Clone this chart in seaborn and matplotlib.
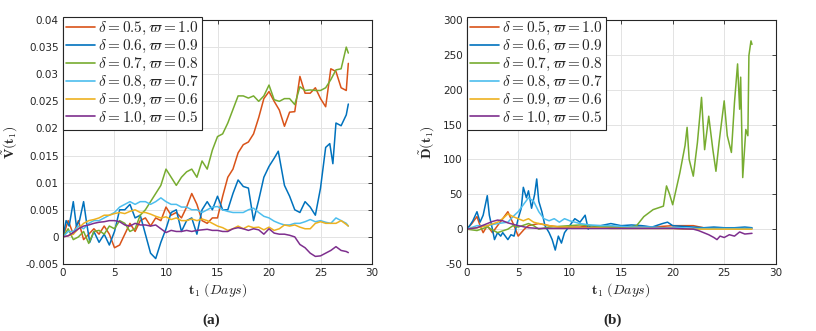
import pandas as pd
import matplotlib.pyplot as plt
import numpy as np
import seaborn as sns

# legend labels and MATLAB-like colours
labels = [r'$\delta = 0.5, \varpi = 1.0$', r'$\delta = 0.6, \varpi = 0.9$',
          r'$\delta = 0.7, \varpi = 0.8$', r'$\delta = 0.8, \varpi = 0.7$',
          r'$\delta = 0.9, \varpi = 0.6$', r'$\delta = 1.0, \varpi = 0.5$']
colors = ['#D95319', '#0072BD', '#77AC30', '#4DBEEE', '#EDB120', '#7E2F8E']

# ---- panel (a): V(t1) ----
t_a = [0, 0.5, 1, 1.5, 2, 2.5, 3, 3.5, 4, 4.5, 5, 5.5, 6, 6.5, 7, 7.5, 8, 8.5, 9, 9.5,
       10, 10.5, 11, 11.5, 12, 12.5, 13, 13.5, 14, 14.5, 15, 15.5, 16, 16.5, 17, 17.5,
       18, 18.5, 19, 19.5, 20, 20.5, 21, 21.5, 22, 22.5, 23, 23.5, 24, 24.5, 25, 25.5,
       26, 26.5, 27, 27.5, 27.7]
v_orange = [0, 0.003, 0.0005, 0.003, -0.0005, 0.0005, 0.0015, 0.0005, 0.002, 0.0005,
            -0.002, -0.0015, 0.0005, 0.0025, 0.001, 0.003, 0.0035, 0.002, 0.0035, 0.003,
            0.0055, 0.004, 0.0045, 0.0035, 0.0055, 0.008, 0.006, 0.003, 0.0025, 0.0035,
            0.0035, 0.0075, 0.011, 0.0125, 0.0155, 0.017, 0.0175, 0.019, 0.022, 0.0255,
            0.0268, 0.025, 0.0234, 0.0204, 0.023, 0.0231, 0.0296, 0.0265, 0.0265, 0.0275,
            0.0255, 0.024, 0.031, 0.0305, 0.0275, 0.027, 0.032]
v_green = [0, 0.0015, -0.0005, 0, 0.001, -0.0012, 0.001, 0.0012, 0.0005, 0.002,
           0.0015, 0.003, 0.0025, 0.001, 0.0015, 0.004, 0.005, 0.0065, 0.008, 0.0095,
           0.0125, 0.011, 0.0095, 0.011, 0.012, 0.0125, 0.011, 0.014, 0.0125, 0.016,
           0.0185, 0.019, 0.021, 0.0235, 0.026, 0.026, 0.0256, 0.026, 0.025, 0.026,
           0.028, 0.0253, 0.025, 0.0255, 0.0255, 0.0244, 0.0277, 0.027, 0.0271, 0.027,
           0.027, 0.0275, 0.029, 0.0308, 0.031, 0.035, 0.0339]
v_light = [0, 0.001, 0.001, 0.002, 0.0015, 0.0025, 0.003, 0.003, 0.0035, 0.004,
           0.0045, 0.0055, 0.006, 0.0065, 0.006, 0.0065, 0.0065, 0.006, 0.0065, 0.0072,
           0.0065, 0.006, 0.006, 0.0055, 0.0055, 0.005, 0.005, 0.0045, 0.005, 0.0055,
           0.0056, 0.005, 0.0047, 0.0045, 0.0045, 0.0045, 0.005, 0.0053, 0.0045, 0.0038,
           0.0035, 0.0029, 0.0025, 0.0022, 0.0022, 0.0025, 0.0025, 0.0028, 0.0032, 0.0028,
           0.003, 0.0027, 0.0025, 0.0035, 0.003, 0.0025, 0.002]
v_yellow = [0, 0.0002, 0.0005, 0.0015, 0.0025, 0.003, 0.0032, 0.0035, 0.004, 0.004,
            0.0043, 0.0045, 0.0043, 0.0047, 0.005, 0.0045, 0.0045, 0.0042, 0.0038, 0.0035,
            0.0037, 0.0032, 0.0035, 0.003, 0.003, 0.0033, 0.003, 0.0033, 0.003, 0.0025,
            0.002, 0.0017, 0.0012, 0.0015, 0.002, 0.0015, 0.002, 0.0017, 0.0018, 0.0013,
            0.0018, 0.0012, 0.0015, 0.0022, 0.002, 0.0022, 0.0018, 0.0015, 0.0015, 0.0025,
            0.0028, 0.0025, 0.0025, 0.0025, 0.003, 0.0023, 0.002]
v_purple = [0, 0.0002, 0.0008, 0.0015, 0.002, 0.0022, 0.0025, 0.0027, 0.0028, 0.003,
            0.003, 0.0028, 0.0022, 0.002, 0.0025, 0.0022, 0.0022, 0.002, 0.0022, 0.0015,
            0.0008, 0.0012, 0.001, 0.001, 0.0012, 0.001, 0.0012, 0.0013, 0.0014, 0.0012,
            0.0012, 0.001, 0.001, 0.0015, 0.0017, 0.0015, 0.0012, 0.0015, 0.0013, 0.0005,
            0.0015, 0.0007, 0.0005, 0.0005, 0.0003, 0.0, -0.0014, -0.002, -0.003, -0.0036,
            -0.0035, -0.003, -0.0025, -0.0018, -0.0025, -0.0027, -0.0029]
t_a_blue = [0, 0.3, 0.6, 1, 1.3, 1.6, 2, 2.3, 2.6, 3, 3.5, 4, 4.5, 5, 5.5, 6, 6.5, 7,
            7.5, 8, 8.5, 9, 9.5, 10, 10.5, 11, 11.5, 12, 12.5, 13, 13.5, 14, 14.5, 15,
            15.5, 16, 16.5, 17, 17.5, 18, 18.5, 19, 19.5, 20, 20.5, 20.9, 21.5, 22, 22.5,
            23, 23.5, 24, 24.5, 25, 25.5, 25.9, 26.2, 26.5, 27, 27.5, 27.7]
v_blue = [0, 0.003, 0.002, 0.0065, 0.002, 0.003, 0.0065, 0.0025, -0.001, 0.001,
          -0.001, 0.0005, -0.0015, 0.001, 0.005, 0.005, 0.006, 0.0035, 0.004, 0.0005,
          -0.003, -0.004, -0.001, 0.0015, 0.0045, 0.005, 0.001, 0.003, 0.0035, 0.0005,
          0.005, 0.0065, 0.005, 0.0075, 0.005, 0.005, 0.008, 0.0105, 0.0093, 0.009,
          0.003, 0.0068, 0.011, 0.013, 0.0145, 0.0158, 0.0095, 0.0075, 0.005, 0.0045,
          0.0065, 0.0055, 0.004, 0.009, 0.0165, 0.0172, 0.0135, 0.021, 0.0205, 0.0225,
          0.0245]

# ---- panel (b): D(t1) ----
t_b_orange = [0, 0.5, 1, 1.3, 1.6, 2, 2.5, 3, 3.5, 4, 4.3, 4.6, 5, 5.3, 5.6, 6, 7, 8, 9,
              10, 11, 12, 13, 14, 15, 16, 17, 18, 19, 20, 21, 22, 23, 24, 25, 26, 27, 27.7]
d_orange = [0, 8, 18, 5, -5, 5, -5, 5, 15, 25, 15, 5, -10, -5, 0, 5, 8, 5, 3, 3, 3, 5,
            3, 3, 3, 3, 4, 3, 4, 5, 5, 5, 2, 2, 2, 1, 1, 1]
t_b_blue = [0, 0.3, 0.6, 1, 1.3, 1.6, 2, 2.2, 2.5, 2.7, 3, 3.3, 3.5, 4, 4.3, 4.6, 5, 5.3,
            5.5, 5.8, 6, 6.3, 6.6, 6.8, 7, 7.3, 7.6, 8, 8.3, 8.6, 8.9, 9.2, 9.5, 10, 10.5,
            11, 11.5, 11.8, 12, 13, 14, 15, 16, 17, 18, 19, 19.5, 20, 21, 22, 23, 24, 25,
            26, 27, 27.7]
d_blue = [0, 5, 12, 25, 10, 20, 48, 20, 0, -15, -5, -10, -5, -15, -8, -10, 15, 30, 60,
          45, 55, 30, 50, 72, 40, 25, 5, -5, -15, -30, -10, -20, -5, 5, 15, 10, 20, 0, 5,
          5, 8, 5, 6, 5, 3, 8, 10, 5, 4, 3, 2, 3, 2, 2, 3, 2]
t_b_green = [0, 1, 2, 3, 4, 4.5, 5, 6, 6.5, 7, 8, 9, 10, 11, 12, 13, 14, 15, 16, 16.5,
             17.2, 18.1, 19.1, 19.4, 19.7, 20, 20.7, 21.2, 21.4, 21.6, 22, 22.4, 22.8,
             23.1, 23.5, 23.9, 24.2, 24.5, 25, 25.3, 25.7, 26, 26.3, 26.5, 26.6, 26.8,
             27.1, 27.3, 27.4, 27.6, 27.7]
d_green = [0, -2, 3, -5, 0, 5, 3, 8, 5, 0, 3, 4, 5, 6, 5, 4, 3, 3, 3, 5, 18, 28, 33, 62,
           50, 35, 81, 120, 146, 100, 76, 124, 189, 114, 162, 114, 83, 124, 184, 134, 110,
           182, 237, 172, 218, 74, 143, 134, 249, 270, 265]
t_b_light = [0, 1, 2, 3, 4, 4.5, 5, 5.5, 6, 6.5, 7, 7.5, 8, 8.5, 9, 9.5, 10, 10.5, 11,
             12, 13, 14, 15, 16, 17, 18, 19, 20, 21, 22, 23, 24, 25, 26, 27, 27.7]
d_light = [0, 5, 5, 8, 10, 18, 25, 35, 45, 40, 25, 15, 12, 15, 10, 15, 12, 10, 8, 6, 5,
           5, 4, 3, 3, 3, 2, 2, 2, 1, 1, 1, 1, 1, 1, 1]
t_b_yellow = [0, 1, 2, 3, 3.5, 4, 4.5, 5, 5.5, 6, 6.5, 7, 8, 9, 10, 11, 12, 13, 14, 15,
              16, 17, 18, 19, 20, 21, 22, 23, 24, 25, 26, 27, 27.7]
d_yellow = [0, 2, 5, 10, 15, 22, 18, 15, 12, 15, 10, 8, 5, 3, 3, 2, 2, 2, 1, 1, 1, 1, 1,
            1, 1, 0, 0, 0, 0, 0, 0, 0, 0]
t_b_purple = [0, 1, 2, 2.5, 3, 3.5, 4, 5, 6, 7, 8, 10, 12, 14, 16, 18, 20, 22, 22.5, 23,
              23.5, 24, 24.3, 24.6, 25, 25.5, 26, 26.5, 27, 27.7]
d_purple = [0, 2, 8, 11, 13, 12, 9, 5, 2, 1, 1, 1, 1, 1, 1, 1, 1, 0, -2, -5, -8, -12,
            -15, -10, -12, -8, -10, -4, -7, -6]


def make_df(pairs):
    frames = []
    for lab, (t, v) in zip(labels, pairs):
        frames.append(pd.DataFrame({'t': t, 'v': v, 'series': lab}))
    return pd.concat(frames, ignore_index=True)


df_a = make_df([(t_a, v_orange), (t_a_blue, v_blue), (t_a, v_green),
                (t_a, v_light), (t_a, v_yellow), (t_a, v_purple)])
df_b = make_df([(t_b_orange, d_orange), (t_b_blue, d_blue), (t_b_green, d_green),
                (t_b_light, d_light), (t_b_yellow, d_yellow), (t_b_purple, d_purple)])

sns.set_theme(style='whitegrid')
plt.rcParams['font.family'] = ['DejaVu Sans']
plt.rcParams['mathtext.fontset'] = 'cm'

fig = plt.figure(figsize=(8.16, 3.31), dpi=100)
ax_a = fig.add_axes([0.0772, 0.2024, 0.3787, 0.7372])
ax_b = fig.add_axes([0.5719, 0.2024, 0.3787, 0.7372])

panels = [
    (ax_a, df_a, (-0.005, 0.04), np.arange(-0.005, 0.0401, 0.005),
     r'$\tilde{\mathbf{V}}(\mathbf{t}_1)$', '(a)', 211),
    (ax_b, df_b, (-50, 300), np.arange(-50, 301, 50),
     r'$\tilde{\mathbf{D}}(\mathbf{t}_1)$', '(b)', 613),
]

for ax, df, ylim, yticks, ylab, cap, capx in panels:
    sns.lineplot(data=df, x='t', y='v', hue='series', palette=colors, sort=False,
                 estimator=None, linewidth=1.1, ax=ax)
    ax.set_xlim(0, 30)
    ax.set_ylim(*ylim)
    ax.set_xticks(np.arange(0, 31, 5))
    ax.set_yticks(yticks)
    ax.set_yticklabels(['%g' % round(y, 4) for y in yticks])
    ax.grid(True, color='#e3e3e3', linewidth=0.7)
    for s in ax.spines.values():
        s.set_color('#262626')
        s.set_linewidth(0.8)
    ax.tick_params(direction='in', top=True, right=True, labelsize=7.5,
                   colors='#262626', length=3, width=0.6, pad=3)
    ax.set_xlabel(r'$\mathbf{t}_1\ (\mathit{Days})$', fontsize=10, color='#262626', labelpad=2)
    ax.set_ylabel(ylab, fontsize=10, color='#262626', labelpad=4)
    leg = ax.legend(loc='upper left', bbox_to_anchor=(0, 1.012), borderaxespad=0,
                    fontsize=11, frameon=True, fancybox=False, framealpha=1,
                    edgecolor='#262626', handlelength=1.9, handletextpad=0.2,
                    labelspacing=0.05, borderpad=0.2)
    leg.get_frame().set_linewidth(0.8)
    for line in leg.get_lines():
        line.set_linewidth(1.2)
    fig.text(capx / 816, 1 - 320 / 331, cap, ha='center', va='center',
             fontsize=11, fontweight='bold', family='Liberation Serif')

fig.savefig('out.png', dpi=100)
